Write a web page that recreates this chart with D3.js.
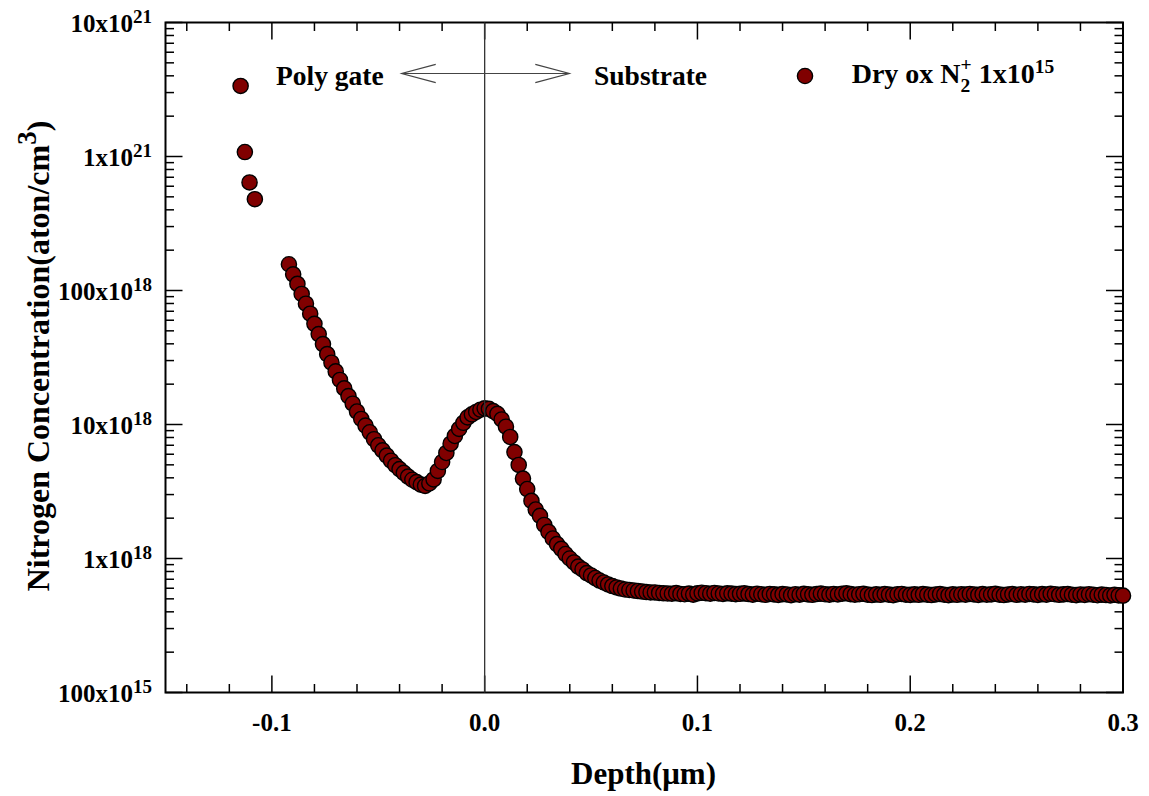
<!DOCTYPE html>
<html>
<head>
<meta charset="utf-8">
<script src="https://cdn.jsdelivr.net/npm/d3@7/dist/d3.min.js"></script>
<style>
  html, body { margin: 0; padding: 0; background: #fff; }
  svg { display: block; font-family: "Liberation Serif", "Times New Roman", Times, serif; font-weight: bold; }
</style>
</head>
<body>
<svg id="chart" width="1149" height="796"></svg>
<script>
// Near-surface points inside the poly gate
const surfaceDepth = [-0.1147, -0.1127, -0.1105, -0.1080];
const surfaceConc  = [3.36e21, 1.08e21, 6.40e20, 4.80e20];

// SIMS nitrogen profile, depth in µm
const profileDepth = [
  -0.092, -0.090, -0.088, -0.086, -0.084, -0.082, -0.080, -0.078, -0.076, -0.074,
  -0.072, -0.070, -0.068, -0.066, -0.064, -0.062, -0.060, -0.058, -0.056, -0.054,
  -0.052, -0.050, -0.048, -0.046, -0.044, -0.042, -0.040, -0.038, -0.036, -0.034,
  -0.032, -0.030, -0.028, -0.026, -0.024, -0.022, -0.020, -0.018, -0.016, -0.014,
  -0.012, -0.010, -0.008, -0.006, -0.004, -0.002, 0.000, 0.002, 0.004, 0.006,
  0.008, 0.010, 0.012, 0.014, 0.016, 0.018, 0.020, 0.022, 0.024, 0.026,
  0.028, 0.030, 0.032, 0.034, 0.036, 0.038, 0.040, 0.042, 0.044, 0.046,
  0.048, 0.050, 0.052, 0.054, 0.056, 0.058, 0.060, 0.062, 0.064, 0.066,
  0.068, 0.070, 0.072, 0.074, 0.076, 0.078, 0.080, 0.082, 0.084, 0.086,
  0.088, 0.090, 0.092, 0.094, 0.096, 0.098, 0.100, 0.102, 0.104, 0.106,
  0.108, 0.110, 0.112, 0.114, 0.116, 0.118, 0.120, 0.122, 0.124, 0.126,
  0.128, 0.130, 0.132, 0.134, 0.136, 0.138, 0.140, 0.142, 0.144, 0.146,
  0.148, 0.150, 0.152, 0.154, 0.156, 0.158, 0.160, 0.162, 0.164, 0.166,
  0.168, 0.170, 0.172, 0.174, 0.176, 0.178, 0.180, 0.182, 0.184, 0.186,
  0.188, 0.190, 0.192, 0.194, 0.196, 0.198, 0.200, 0.202, 0.204, 0.206,
  0.208, 0.210, 0.212, 0.214, 0.216, 0.218, 0.220, 0.222, 0.224, 0.226,
  0.228, 0.230, 0.232, 0.234, 0.236, 0.238, 0.240, 0.242, 0.244, 0.246,
  0.248, 0.250, 0.252, 0.254, 0.256, 0.258, 0.260, 0.262, 0.264, 0.266,
  0.268, 0.270, 0.272, 0.274, 0.276, 0.278, 0.280, 0.282, 0.284, 0.286,
  0.288, 0.290, 0.292, 0.294, 0.296, 0.298, 0.300
];

// Nitrogen concentration, atoms/cm³
const profileConc = [
  1.57e20, 1.32e20, 1.12e20, 9.42e19, 7.97e19, 6.71e19, 5.64e19, 4.73e19, 3.98e19, 3.35e19,
  2.89e19, 2.49e19, 2.15e19, 1.86e19, 1.63e19, 1.43e19, 1.25e19, 1.10e19, 9.81e18, 8.75e18,
  7.77e18, 7.00e18, 6.41e18, 5.86e18, 5.37e18, 4.97e18, 4.65e18, 4.36e18, 4.09e18, 3.87e18,
  3.72e18, 3.56e18, 3.48e18, 3.63e18, 3.89e18, 4.50e18, 5.25e18, 6.13e18, 7.19e18, 8.21e18,
  9.26e18, 1.03e19, 1.13e19, 1.19e19, 1.24e19, 1.29e19, 1.32e19, 1.31e19, 1.26e19, 1.20e19,
  1.09e19, 9.63e18, 8.07e18, 6.23e18, 4.99e18, 3.95e18, 3.30e18, 2.69e18, 2.32e18, 2.08e18,
  1.78e18, 1.58e18, 1.41e18, 1.28e18, 1.18e18, 1.08e18, 1.00e18, 9.34e17, 8.71e17, 8.28e17,
  7.79e17, 7.47e17, 7.15e17, 6.85e17, 6.62e17, 6.40e17, 6.23e17, 6.08e17, 5.97e17, 5.87e17,
  5.82e17, 5.77e17, 5.72e17, 5.67e17, 5.62e17, 5.58e17, 5.58e17, 5.53e17, 5.50e17, 5.48e17,
  5.46e17, 5.52e17, 5.44e17, 5.41e17, 5.47e17, 5.38e17, 5.49e17, 5.55e17, 5.51e17, 5.46e17,
  5.53e17, 5.48e17, 5.44e17, 5.50e17, 5.47e17, 5.42e17, 5.45e17, 5.49e17, 5.43e17, 5.38e17,
  5.46e17, 5.41e17, 5.36e17, 5.44e17, 5.40e17, 5.35e17, 5.42e17, 5.39e17, 5.33e17, 5.41e17,
  5.37e17, 5.45e17, 5.40e17, 5.36e17, 5.43e17, 5.47e17, 5.41e17, 5.38e17, 5.44e17, 5.39e17,
  5.46e17, 5.50e17, 5.42e17, 5.37e17, 5.41e17, 5.45e17, 5.38e17, 5.34e17, 5.40e17, 5.36e17,
  5.43e17, 5.38e17, 5.33e17, 5.41e17, 5.44e17, 5.37e17, 5.35e17, 5.40e17, 5.36e17, 5.42e17,
  5.38e17, 5.34e17, 5.39e17, 5.43e17, 5.37e17, 5.33e17, 5.40e17, 5.36e17, 5.41e17, 5.38e17,
  5.44e17, 5.39e17, 5.35e17, 5.42e17, 5.37e17, 5.40e17, 5.45e17, 5.38e17, 5.34e17, 5.39e17,
  5.43e17, 5.36e17, 5.41e17, 5.37e17, 5.44e17, 5.40e17, 5.35e17, 5.42e17, 5.38e17, 5.45e17,
  5.41e17, 5.36e17, 5.40e17, 5.43e17, 5.37e17, 5.33e17, 5.39e17, 5.35e17, 5.41e17, 5.37e17,
  5.32e17, 5.38e17, 5.34e17, 5.30e17, 5.36e17, 5.31e17, 5.28e17
];

// Axis ticks and labels
const xTickValues = [-0.1, 0.0, 0.1, 0.2, 0.3];
const xTickLabels = ["-0.1", "0.0", "0.1", "0.2", "0.3"];
const yTickValues = [1e17, 1e18, 1e19, 1e20, 1e21, 1e22];
const yTickMantissa = ["100x10", "1x10", "10x10", "100x10", "1x10", "10x10"];
const yTickExponent = ["15", "18", "18", "18", "21", "21"];

const svg = d3.select("#chart");
const plot = { left: 165.5, right: 1123, top: 22.5, bottom: 692.5 };

const x = d3.scaleLinear().domain([-0.15, 0.3]).range([plot.left, plot.right]);
const y = d3.scaleLog().domain([1e17, 1e22]).range([plot.bottom, plot.top]);

const MAJOR = 17, MINOR = 8.5;

// minor tick positions
const xMinor = d3.range(-14, 30, 2).filter(v => v % 10 !== 0).map(v => v / 100);
const yMinor = [];
[1e17, 1e18, 1e19, 1e20, 1e21].forEach(dec => { for (let m = 2; m <= 9; m++) yMinor.push(dec * m); });

const ticks = svg.append("g").attr("stroke", "#000").attr("stroke-width", 1.5);
// bottom and top
ticks.selectAll(null).data(xTickValues).join("line")
  .attr("x1", d => x(d)).attr("x2", d => x(d))
  .attr("y1", plot.bottom).attr("y2", plot.bottom - MAJOR);
ticks.selectAll(null).data(xTickValues).join("line")
  .attr("x1", d => x(d)).attr("x2", d => x(d))
  .attr("y1", plot.top).attr("y2", plot.top + MAJOR);
ticks.selectAll(null).data(xMinor).join("line")
  .attr("x1", d => x(d)).attr("x2", d => x(d))
  .attr("y1", plot.bottom).attr("y2", plot.bottom - MINOR);
ticks.selectAll(null).data(xMinor).join("line")
  .attr("x1", d => x(d)).attr("x2", d => x(d))
  .attr("y1", plot.top).attr("y2", plot.top + MINOR);
// left and right
ticks.selectAll(null).data(yTickValues).join("line")
  .attr("y1", d => y(d)).attr("y2", d => y(d))
  .attr("x1", plot.left).attr("x2", plot.left + MAJOR);
ticks.selectAll(null).data(yTickValues).join("line")
  .attr("y1", d => y(d)).attr("y2", d => y(d))
  .attr("x1", plot.right).attr("x2", plot.right - MAJOR);
ticks.selectAll(null).data(yMinor).join("line")
  .attr("y1", d => y(d)).attr("y2", d => y(d))
  .attr("x1", plot.left).attr("x2", plot.left + MINOR);
ticks.selectAll(null).data(yMinor).join("line")
  .attr("y1", d => y(d)).attr("y2", d => y(d))
  .attr("x1", plot.right).attr("x2", plot.right - MINOR);

// frame
svg.append("rect")
  .attr("x", plot.left).attr("y", plot.top)
  .attr("width", plot.right - plot.left).attr("height", plot.bottom - plot.top)
  .attr("fill", "none").attr("stroke", "#000").attr("stroke-width", 2);

// x tick labels
svg.append("g").selectAll("text").data(xTickValues).join("text")
  .attr("x", d => x(d)).attr("y", 731)
  .attr("text-anchor", "middle").attr("font-size", 25)
  .text((d, i) => xTickLabels[i]);

// y tick labels with exponent
const yl = svg.append("g").selectAll("text").data(yTickValues).join("text")
  .attr("x", 152).attr("y", d => y(d) + 9.3)
  .attr("text-anchor", "end").attr("font-size", 25);
yl.append("tspan").text((d, i) => yTickMantissa[i]);
yl.append("tspan").attr("dy", -9.3).attr("font-size", 19).text((d, i) => yTickExponent[i]);

// axis titles
svg.append("text")
  .attr("x", 643.5).attr("y", 784)
  .attr("text-anchor", "middle").attr("font-size", 31)
  .text("Depth(\u03bcm)");

const yTitle = svg.append("text")
  .attr("transform", "translate(49,356) rotate(-90)")
  .attr("text-anchor", "middle").attr("font-size", 32);
yTitle.append("tspan").text("Nitrogen Concentration(aton/cm");
yTitle.append("tspan").attr("dy", -13).attr("font-size", 27).text("3");
yTitle.append("tspan").attr("dy", 13).text(")");

// data points
const pts = svg.append("g").attr("fill", "#800000").attr("stroke", "#000").attr("stroke-width", 1.4);
const allDepth = surfaceDepth.concat(profileDepth);
const allConc = surfaceConc.concat(profileConc);
pts.selectAll("circle").data(d3.range(allDepth.length)).join("circle")
  .attr("cx", i => x(allDepth[i]))
  .attr("cy", i => y(allConc[i]))
  .attr("r", 7.6);

// gate / substrate interface
svg.append("line")
  .attr("x1", x(0)).attr("x2", x(0))
  .attr("y1", plot.top).attr("y2", plot.bottom)
  .attr("stroke", "#333").attr("stroke-width", 1.3);

// double arrow across the interface
const arrowY = 73.5, armDx = 0.016, armDy = 9.2;
const arrowL = -0.039, arrowR = 0.0398;
const ann = svg.append("g").attr("stroke", "#444").attr("stroke-width", 1.2).attr("fill", "none");
ann.append("line").attr("x1", x(arrowL)).attr("x2", x(arrowR)).attr("y1", arrowY).attr("y2", arrowY);
ann.append("polyline").attr("points",
  `${x(arrowL + armDx)},${arrowY - armDy} ${x(arrowL)},${arrowY} ${x(arrowL + armDx)},${arrowY + armDy}`);
ann.append("polyline").attr("points",
  `${x(arrowR - armDx)},${arrowY - armDy} ${x(arrowR)},${arrowY} ${x(arrowR - armDx)},${arrowY + armDy}`);

svg.append("text").attr("x", 276).attr("y", 84.5).attr("font-size", 27.5).text("Poly gate");
svg.append("text").attr("x", 594).attr("y", 84.5).attr("font-size", 27.5).text("Substrate");

// legend
svg.append("circle").attr("cx", 805).attr("cy", 76).attr("r", 7.6)
  .attr("fill", "#800000").attr("stroke", "#000").attr("stroke-width", 1.4);
const leg = svg.append("text").attr("x", 851.7).attr("y", 83).attr("font-size", 28);
leg.append("tspan").text("Dry ox N");
leg.append("tspan").attr("dy", 9).attr("font-size", 19.5).text("2");
leg.append("tspan").attr("dx", -9.75).attr("dy", -21).attr("font-size", 19.5).text("+");
leg.append("tspan").attr("dy", 12).text(" 1x10");
leg.append("tspan").attr("dy", -10).attr("font-size", 19.5).text("15");
</script>
</body>
</html>
